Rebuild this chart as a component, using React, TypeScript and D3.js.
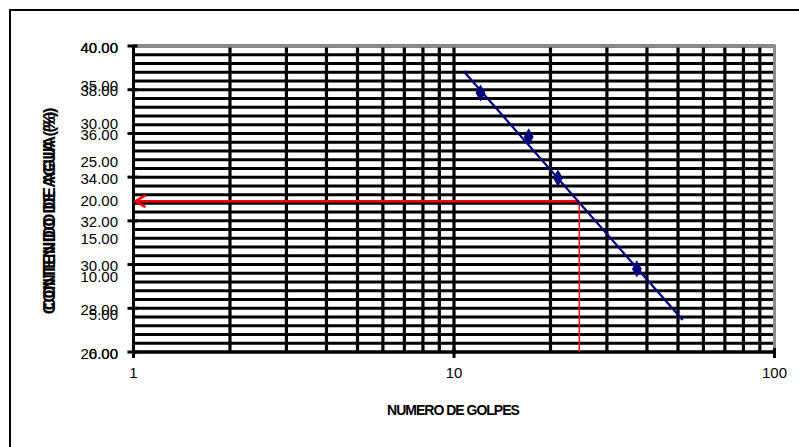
import { useEffect, useRef } from "react";
import * as d3 from "d3";

// puntos de ensayo (limite liquido)
const golpes = [12.1, 17.1, 21.1, 37.2];
const humedad = [37.85, 35.84, 33.96, 29.8];

// extremos de la recta de tendencia
const trendGolpes = [10.7, 51.7];
const trendHumedad = [38.86, 27.46];

// lectura a 25 golpes
const golpesLL = 24.6;
const humedadLL = 32.9;

const xTicks = [1, 10, 100];
const yTicksPrim = [0, 5, 10, 15, 20, 25, 30, 35, 40];
const yTicksSec = [26, 28, 30, 32, 34, 36, 38, 40];

const W = 799;
const H = 447;

const App = () => {
  const ref = useRef<SVGSVGElement | null>(null);

  useEffect(() => {
    document.body.style.margin = "0";
    drawChart();
  }, []);

  const drawChart = () => {
    const svg = d3.select(ref.current);
    svg.selectAll("*").remove();

    const left = 133.5;
    const right = 774.5;
    const top = 46;
    const bottom = 352;

    const x = d3.scaleLog().domain([1, 100]).range([left, right]);
    const yPrim = d3.scaleLinear().domain([0, 40]).range([bottom, top]);
    const ySec = d3.scaleLinear().domain([26, 40]).range([bottom, top]);

    const font = "'Liberation Sans', Arial, sans-serif";

    // marco exterior
    svg
      .append("rect")
      .attr("x", 10)
      .attr("y", 10)
      .attr("width", W + 20)
      .attr("height", H + 20)
      .attr("fill", "#fff")
      .attr("stroke", "#000")
      .attr("stroke-width", 2);

    // grilla horizontal (menor cada 0.4)
    const hLines = d3.range(0, 36).map((i) => 26 + i * 0.4);
    svg
      .append("g")
      .selectAll("line")
      .data(hLines)
      .join("line")
      .attr("x1", left)
      .attr("x2", right)
      .attr("y1", (d) => ySec(d))
      .attr("y2", (d) => ySec(d))
      .attr("stroke", "#000")
      .attr("stroke-width", 3);

    // grilla vertical logaritmica
    const vLines = [2, 3, 4, 5, 6, 7, 8, 9, 10, 20, 30, 40, 50, 60, 70, 80, 90];
    svg
      .append("g")
      .selectAll("line")
      .data(vLines)
      .join("line")
      .attr("x1", (d) => x(d))
      .attr("x2", (d) => x(d))
      .attr("y1", top)
      .attr("y2", bottom)
      .attr("stroke", "#000")
      .attr("stroke-width", 3.2);

    // borde del area de trazado
    svg
      .append("path")
      .attr("d", `M${left},${top}H${right}V${bottom}`)
      .attr("fill", "none")
      .attr("stroke", "#8c8c8c")
      .attr("stroke-width", 3);

    // eje Y
    const yAxis = svg.append("g");
    yAxis
      .append("line")
      .attr("x1", left)
      .attr("x2", left)
      .attr("y1", top - 1)
      .attr("y2", bottom + 1)
      .attr("stroke", "#000")
      .attr("stroke-width", 3);
    yAxis
      .selectAll("line.tick")
      .data(yTicksSec)
      .join("line")
      .attr("class", "tick")
      .attr("x1", left - 6)
      .attr("x2", left + 4)
      .attr("y1", (d) => ySec(d))
      .attr("y2", (d) => ySec(d))
      .attr("stroke", "#000")
      .attr("stroke-width", 3);

    const labelStyle = (sel: any) =>
      sel
        .attr("x", 118)
        .attr("text-anchor", "end")
        .attr("dominant-baseline", "central")
        .attr("font-family", font)
        .attr("font-size", 15)
        .attr("fill", "#000");

    svg
      .append("g")
      .selectAll("text")
      .data(yTicksPrim)
      .join("text")
      .call(labelStyle)
      .attr("y", (d) => yPrim(d) + 1)
      .text((d) => d.toFixed(2));

    svg
      .append("g")
      .selectAll("text")
      .data(yTicksSec)
      .join("text")
      .call(labelStyle)
      .attr("y", (d) => ySec(d) + 1)
      .text((d) => d.toFixed(2));

    // eje X
    const xAxis = svg.append("g");
    xAxis
      .append("line")
      .attr("x1", left - 1)
      .attr("x2", right + 1)
      .attr("y1", bottom)
      .attr("y2", bottom)
      .attr("stroke", "#000")
      .attr("stroke-width", 3);
    xAxis
      .selectAll("line.tick")
      .data(xTicks)
      .join("line")
      .attr("class", "tick")
      .attr("x1", (d) => x(d))
      .attr("x2", (d) => x(d))
      .attr("y1", bottom - 4)
      .attr("y2", bottom + 6)
      .attr("stroke", "#000")
      .attr("stroke-width", 3);
    xAxis
      .selectAll("text")
      .data(xTicks)
      .join("text")
      .attr("x", (d) => x(d))
      .attr("y", 372)
      .attr("text-anchor", "middle")
      .attr("dominant-baseline", "central")
      .attr("font-family", font)
      .attr("font-size", 15)
      .text((d) => String(d));

    // lineas rojas de lectura
    const yLL = ySec(humedadLL);
    const xLL = x(golpesLL);
    svg
      .append("line")
      .attr("x1", xLL)
      .attr("x2", xLL)
      .attr("y1", yLL)
      .attr("y2", bottom)
      .attr("stroke", "#ff0000")
      .attr("stroke-width", 1.5);
    svg
      .append("line")
      .attr("x1", left + 2)
      .attr("x2", xLL)
      .attr("y1", yLL)
      .attr("y2", yLL)
      .attr("stroke", "#ff0000")
      .attr("stroke-width", 2.5);
    svg
      .append("path")
      .attr("d", `M${left + 12},${yLL - 6}L${left + 2},${yLL}L${left + 12},${yLL + 6}`)
      .attr("fill", "none")
      .attr("stroke", "#ff0000")
      .attr("stroke-width", 2.5);

    // recta de tendencia
    const line = d3
      .line<number>()
      .x((d, i) => x(trendGolpes[i]))
      .y((d) => ySec(d));
    svg
      .append("path")
      .datum(trendHumedad)
      .attr("d", line)
      .attr("fill", "none")
      .attr("stroke", "#000080")
      .attr("stroke-width", 2.2);

    // puntos
    svg
      .append("g")
      .selectAll("path")
      .data(golpes)
      .join("path")
      .attr("transform", (d, i) => `translate(${x(d)},${ySec(humedad[i])})`)
      .attr("d", d3.symbol().type(d3.symbolDiamond).size(85))
      .attr("fill", "#000080");

    // titulos (dos rotulos superpuestos, como en la hoja original)
    const yTitle = svg.append("g").attr("font-family", font).attr("font-weight", "bold").attr("font-size", 16.5);
    [0, 4].forEach((off) =>
      yTitle
        .append("text")
        .attr("transform", `translate(55,${213 - off}) rotate(-90)`)
        .attr("text-anchor", "middle")
        .attr("letter-spacing", -0.3)
        .text("CONTENIDO DE AGUA (%)")
    );

    svg
      .append("text")
      .attr("x", 453)
      .attr("y", 415)
      .attr("text-anchor", "middle")
      .attr("font-family", font)
      .attr("font-weight", "bold")
      .attr("font-size", 14)
      .attr("letter-spacing", -1)
      .text("NUMERO DE GOLPES");
  };

  return <svg ref={ref} width={W} height={H} style={{ display: "block" }} />;
};

export default App;
